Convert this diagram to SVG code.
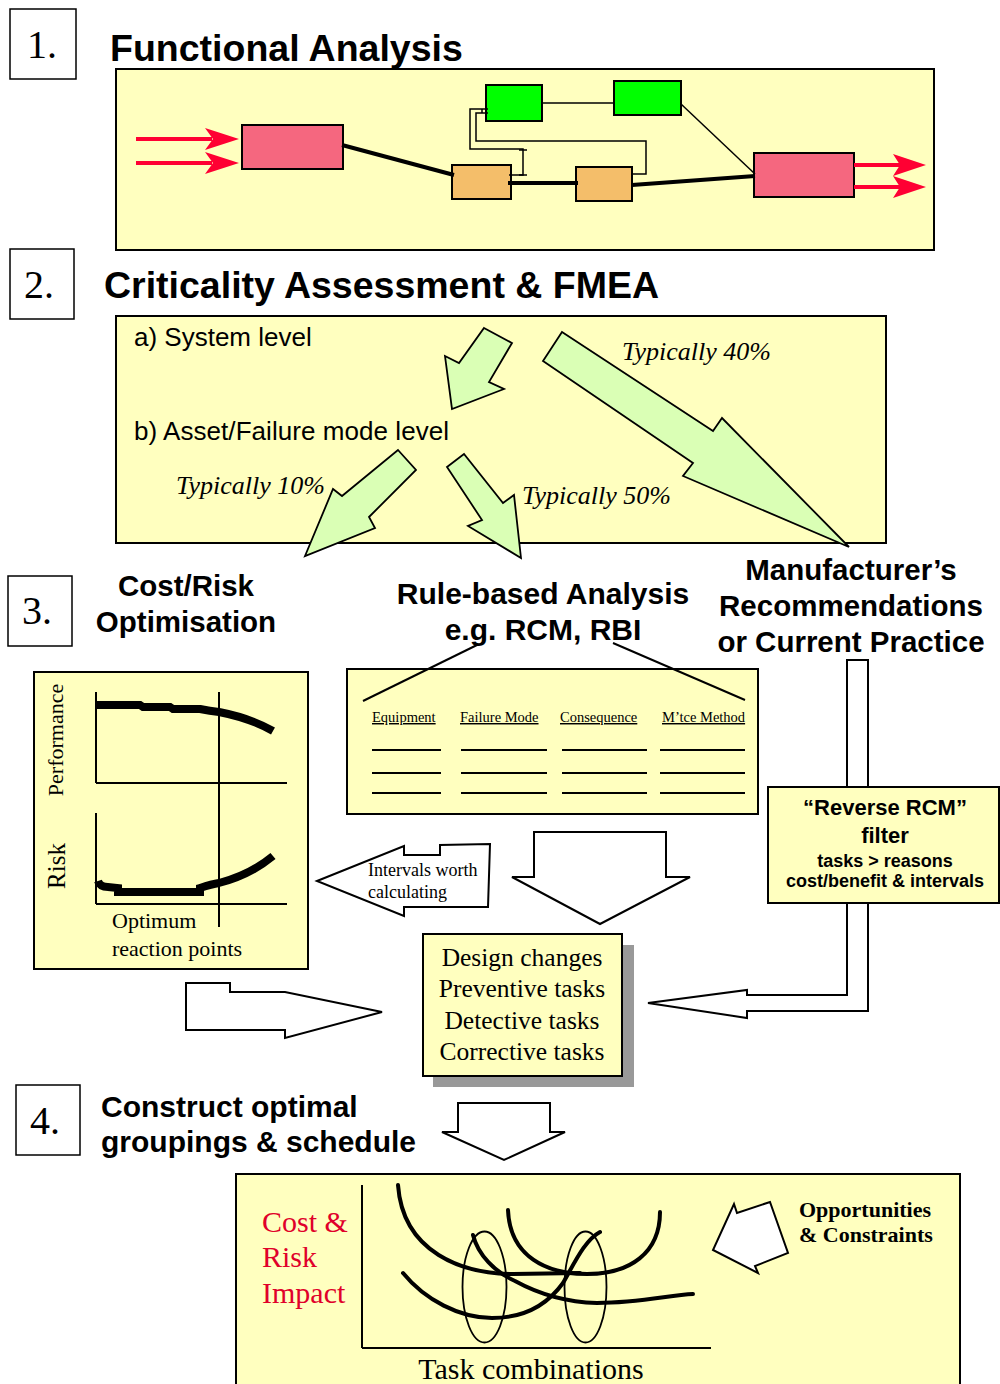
<svg xmlns="http://www.w3.org/2000/svg" width="1000" height="1384" viewBox="0 0 1000 1384">
<style>
.num{font-family:"Liberation Serif",serif;font-size:40px;fill:#000}
.h{font-family:"Liberation Sans",Arial,sans-serif;font-weight:bold;fill:#000}
.panel{fill:#FFFFBF;stroke:#000;stroke-width:2}
.nb{fill:#fff;stroke:#000;stroke-width:1.5}
.sans{font-family:"Liberation Sans",Arial,sans-serif;fill:#000}
.ser{font-family:"Liberation Serif","Times New Roman",serif;fill:#000}
.it{font-family:"Liberation Serif","Times New Roman",serif;font-style:italic;fill:#000;font-size:26px}
.garrow{fill:#DAFFB5;stroke:#000;stroke-width:1.8;stroke-linejoin:miter}
.warrow{fill:#fff;stroke:#000;stroke-width:2}
.thick{stroke:#000;stroke-width:4;fill:none}
.thin{stroke:#000;stroke-width:1.5;fill:none}
.red{stroke:#FF0033;stroke-width:4;fill:none}
.redh{fill:#FF0033}
.curve{stroke:#000;stroke-width:4;fill:none;stroke-linecap:round}
.th{font-family:"Liberation Serif","Times New Roman",serif;font-size:14.5px;text-decoration:underline;fill:#000}
.rule{stroke:#000;stroke-width:2}
.redtxt{font-family:"Liberation Serif","Times New Roman",serif;font-size:30px;fill:#E0002A}
</style>

<!-- Section 1 -->
<g id="step1">
  <rect x="10" y="9" width="66" height="70" class="nb"/>
  <text x="27" y="58" class="num">1.</text>
  <text x="110" y="61" class="h" font-size="37.5">Functional Analysis</text>
</g>
<g id="fa-panel">
  <rect x="116" y="69" width="818" height="181" class="panel"/>
</g>
<g id="fa-input"><rect x="242" y="125" width="101" height="44" fill="#F5677F" stroke="#000" stroke-width="2"/></g>
<g id="fa-orange1"><rect x="452" y="165" width="59" height="34" fill="#F4BE6A" stroke="#000" stroke-width="2"/></g>
<g id="fa-orange2"><rect x="576" y="167" width="56" height="34" fill="#F4BE6A" stroke="#000" stroke-width="2"/></g>
<g id="fa-green1"><rect x="486" y="85" width="56" height="36" fill="#00FF00" stroke="#000" stroke-width="2"/></g>
<g id="fa-green2"><rect x="614" y="81" width="67" height="34" fill="#00FF00" stroke="#000" stroke-width="2"/></g>
<g id="fa-output"><rect x="754" y="153" width="100" height="44" fill="#F5677F" stroke="#000" stroke-width="2"/></g>

<g id="connectors">
  <!-- section 1 -->
  <line x1="136" y1="139" x2="212" y2="139" class="red"/>
  <path d="M239,139 L205,128 L213,139 L205,150 Z" class="redh"/>
  <line x1="136" y1="163" x2="212" y2="163" class="red"/>
  <path d="M239,163 L205,152 L213,163 L205,174 Z" class="redh"/>
  <line x1="854" y1="165" x2="900" y2="165" class="red"/>
  <path d="M926,165 L893,154 L900,165 L893,176 Z" class="redh"/>
  <line x1="854" y1="187" x2="900" y2="187" class="red"/>
  <path d="M926,187 L893,176 L900,187 L893,198 Z" class="redh"/>
  <line x1="342" y1="145" x2="454" y2="175" class="thick"/>
  <line x1="508" y1="183" x2="578" y2="183" class="thick"/>
  <line x1="632" y1="185" x2="755" y2="176" class="thick"/>
  <line x1="681" y1="104" x2="755" y2="174" class="thin"/>
  <line x1="542" y1="103" x2="614" y2="103" class="thin"/>
  <polyline points="488,109 470,109 470,149 523,149 523,175 509,175" class="thin"/>
  <line x1="519" y1="150" x2="527" y2="150" class="thin"/>
  <line x1="519" y1="175" x2="527" y2="175" class="thin"/>
  <polyline points="488,113 476,113 476,141 646,141 646,174 632,174" class="thin"/>
  <line x1="482" y1="109" x2="482" y2="113" class="thin"/>

  <!-- section 3 -->
  <polygon points="317,881 404,846 404,855 440,855 440,845 490,844 488,907 404,907 404,916" class="warrow"/>
  <polygon points="534,832 666,832 666,877 690,877 600,924 512,877 534,877" class="warrow"/>
  <polygon points="186,983 230,983 230,992 285,992 382,1012 285,1038 285,1030 186,1030" class="warrow"/>
  <polygon points="847,660 868,660 868,1011 747,1011 747,1018 648,1003 747,990 747,995 847,995" class="warrow"/>

  <!-- section 4 -->
  <polygon points="458,1103 550,1103 550,1132 565,1132 504,1160 442,1132 458,1132" class="warrow"/>
</g>

<!-- Section 2 -->
<g id="step2">
  <rect x="10" y="249" width="64" height="70" class="nb"/>
  <text x="24" y="298" class="num">2.</text>
  <text x="104" y="298" class="h" font-size="37.5">Criticality Assessment &amp; FMEA</text>
</g>
<g id="crit-panel">
  <rect x="116" y="316" width="770" height="227" class="panel"/>
</g>
<g id="crit-labels">
  <text x="134" y="346" class="sans" font-size="26">a) System level</text>
  <text x="134" y="440" class="sans" font-size="26" textLength="315" lengthAdjust="spacing">b) Asset/Failure mode level</text>
  <text x="622" y="360" class="it">Typically 40%</text>
  <text x="176" y="494" class="it">Typically 10%</text>
  <text x="522" y="504" class="it">Typically 50%</text>
</g>
<g id="crit-arrows">
  <polygon points="484,328 512,343 489,382 504,389 452,409 445,356 459,363" class="garrow"/>
  <polygon points="398,450 416,470 369,517 375,528 305,556 333,489 342,496" class="garrow"/>
  <polygon points="447,467 464,454 503,503 514,495 521,558 468,526 482,520" class="garrow"/>
  <polygon points="562,332 543,361 693,463 683,476 849,547 722,418 713,431" class="garrow"/>
</g>

<!-- Section 3 -->
<g id="step3">
  <rect x="8" y="576" width="64" height="70" class="nb"/>
  <text x="22" y="624" class="num">3.</text>
</g>
<g id="cost-risk-title">
  <text x="186" y="596" class="h" font-size="29.5" text-anchor="middle">Cost/Risk</text>
  <text x="186" y="632" class="h" font-size="29.5" text-anchor="middle">Optimisation</text>
</g>
<g id="rule-title">
  <text x="543" y="604" class="h" font-size="30" text-anchor="middle">Rule-based Analysis</text>
  <text x="543" y="640" class="h" font-size="30" text-anchor="middle">e.g. RCM, RBI</text>
</g>
<g id="manuf-title">
  <text x="851" y="580" class="h" font-size="29.5" text-anchor="middle">Manufacturer’s</text>
  <text x="851" y="616" class="h" font-size="29.5" text-anchor="middle">Recommendations</text>
  <text x="851" y="652" class="h" font-size="29.5" text-anchor="middle">or Current Practice</text>
</g>

<g id="cost-risk-chart">
  <rect x="34" y="672" width="274" height="297" class="panel"/>
  <line x1="96" y1="692" x2="96" y2="783" stroke="#000" stroke-width="2"/>
  <line x1="96" y1="783" x2="287" y2="783" stroke="#000" stroke-width="2"/>
  <line x1="96" y1="813" x2="96" y2="904" stroke="#000" stroke-width="2"/>
  <line x1="96" y1="904" x2="287" y2="904" stroke="#000" stroke-width="2"/>
  <line x1="219" y1="692" x2="219" y2="927" stroke="#000" stroke-width="2"/>
  <path d="M97,705 L140,705 L143,707 L170,707 L173,709 L200,709 Q210,711 219,712 Q250,718 273,731" stroke="#000" stroke-width="8" fill="none"/>
  <path d="M98,881 Q100,887 108,887 L118,888 L118,892 L200,892 L200,888 Q212,884 219,883 Q250,875 273,856" stroke="#000" stroke-width="8" fill="none"/>
  <text transform="translate(63,740) rotate(-90)" class="ser" font-size="22" text-anchor="middle">Performance</text>
  <text transform="translate(65,866) rotate(-90)" class="ser" font-size="25" text-anchor="middle">Risk</text>
  <text x="112" y="928" class="ser" font-size="22">Optimum</text>
  <text x="112" y="956" class="ser" font-size="22">reaction points</text>
</g>

<g id="rule-table">
  <rect x="347" y="669" width="411" height="145" class="panel"/>
  <text x="372" y="722" class="th">Equipment</text>
  <text x="460" y="722" class="th">Failure Mode</text>
  <text x="560" y="722" class="th">Consequence</text>
  <text x="662" y="722" class="th">M’tce Method</text>
  <g class="rule">
    <line x1="372" y1="750" x2="441" y2="750"/><line x1="461" y1="750" x2="547" y2="750"/><line x1="562" y1="750" x2="647" y2="750"/><line x1="660" y1="750" x2="745" y2="750"/>
    <line x1="372" y1="773" x2="441" y2="773"/><line x1="461" y1="773" x2="547" y2="773"/><line x1="562" y1="773" x2="647" y2="773"/><line x1="660" y1="773" x2="745" y2="773"/>
    <line x1="372" y1="793" x2="441" y2="793"/><line x1="461" y1="793" x2="547" y2="793"/><line x1="562" y1="793" x2="647" y2="793"/><line x1="660" y1="793" x2="745" y2="793"/>
  </g>
</g>
<g id="table-lines">
  <line x1="363" y1="701" x2="477" y2="645" stroke="#000" stroke-width="2"/>
  <line x1="613" y1="643" x2="745" y2="700" stroke="#000" stroke-width="2"/>
</g>

<g id="intervals-label">
  <text x="368" y="876" class="ser" font-size="18">Intervals worth</text>
  <text x="368" y="898" class="ser" font-size="18">calculating</text>
</g>

<g id="reverse-rcm">
  <rect x="768" y="787" width="231" height="116" class="panel"/>
  <text x="885" y="815" class="h" font-size="22" text-anchor="middle">“Reverse RCM”</text>
  <text x="885" y="843" class="h" font-size="22" text-anchor="middle">filter</text>
  <text x="885" y="867" class="h" font-size="18" text-anchor="middle">tasks &gt; reasons</text>
  <text x="885" y="887" class="h" font-size="18" text-anchor="middle">cost/benefit &amp; intervals</text>
</g>

<g id="task-types">
  <rect x="433" y="945" width="201" height="142" fill="#999"/>
  <rect x="423" y="934" width="199" height="142" class="panel"/>
  <text x="522" y="966" class="ser" font-size="25.5" text-anchor="middle">Design changes</text>
  <text x="522" y="997" class="ser" font-size="25.5" text-anchor="middle">Preventive tasks</text>
  <text x="522" y="1029" class="ser" font-size="25.5" text-anchor="middle">Detective tasks</text>
  <text x="522" y="1060" class="ser" font-size="25.5" text-anchor="middle">Corrective tasks</text>
</g>

<!-- Section 4 -->
<g id="step4">
  <rect x="16" y="1085" width="64" height="70" class="nb"/>
  <text x="30" y="1134" class="num">4.</text>
  <text x="101" y="1117" class="h" font-size="30">Construct optimal</text>
  <text x="101" y="1152" class="h" font-size="30">groupings &amp; schedule</text>
</g>

<g id="schedule-chart">
  <rect x="236" y="1174" width="724" height="220" class="panel"/>
  <text x="262" y="1232" class="redtxt">Cost &amp;</text>
  <text x="262" y="1267" class="redtxt">Risk</text>
  <text x="262" y="1303" class="redtxt">Impact</text>
  <line x1="362" y1="1185" x2="362" y2="1348" stroke="#000" stroke-width="2"/>
  <line x1="362" y1="1348" x2="711" y2="1348" stroke="#000" stroke-width="2"/>
  <path d="M398,1185 C403,1253 463,1274 513,1274 L580,1273" class="curve"/>
  <path d="M508,1210 C510,1257 547,1274 587,1274 C630,1274 660,1253 660,1212" class="curve"/>
  <path d="M403,1273 C425,1300 460,1318 492,1318 C520,1318 545,1308 563,1283 C575,1262 585,1240 600,1232" class="curve"/>
  <path d="M473,1235 C478,1255 495,1272 515,1281 C535,1292 560,1302 597,1303 C640,1303 670,1295 693,1294" class="curve"/>
  <ellipse cx="484.5" cy="1287" rx="22" ry="55.5" fill="none" stroke="#000" stroke-width="1.8"/>
  <ellipse cx="585.5" cy="1287" rx="21" ry="55.5" fill="none" stroke="#000" stroke-width="1.8"/>
  <text x="531" y="1379" class="ser" font-size="30" text-anchor="middle">Task combinations</text>
</g>

<g id="opportunities">
  <polygon points="734,1204 737,1213 770,1202 788,1253 755,1266 758,1273 713,1250" class="warrow"/>
  <text x="799" y="1217" class="ser" font-size="22" font-weight="bold">Opportunities</text>
  <text x="799" y="1242" class="ser" font-size="22" font-weight="bold">&amp; Constraints</text>
</g>
</svg>
